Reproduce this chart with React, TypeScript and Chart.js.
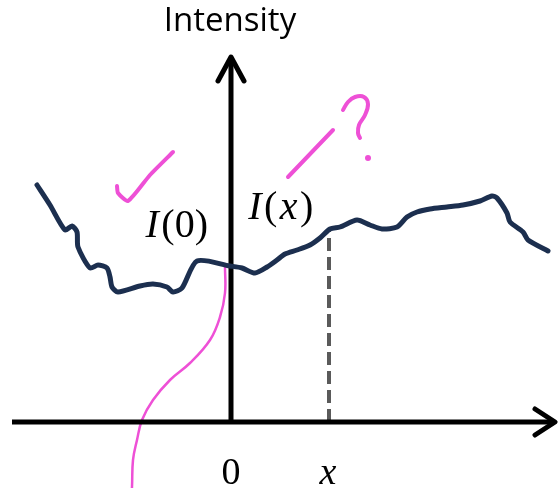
import React, { useEffect, useRef } from "react";
import { Chart, registerables } from "chart.js";

Chart.register(...registerables);

// Coordinates: origin at the intersection of the axes.
const intensityX = [-194, -181, -166, -159, -154, -153, -141, -133, -124, -121, -119, -113, -91, -78, -64, -58, -49, -34, -1, 11, 24, 36, 46, 54, 66, 79, 89, 99, 109, 126, 139, 151, 166, 176, 186, 199, 216, 232, 249, 261, 266, 276, 279, 292, 297, 317];
const intensityY = [237, 217, 192, 196, 190, 175, 154, 157, 154, 145, 135, 130, 136, 138, 135, 130, 134, 161, 156, 154, 149, 155, 162, 168, 172, 177, 184, 193, 195, 202, 197, 193, 195, 205, 210, 213, 215, 217, 221, 226, 224, 209, 200, 190, 182, 171];

const sampleX = 98;
const sampleValue = 192;

// Pink path, listed from the bottom edge upwards; it runs off the bottom of the frame.
const pathX = [-100, -99, -98, -94, -89, -78, -61, -41, -21, -11, -6, -6];
const pathY = [-80, -65, -38, -18, 2, 22, 42, 59, 82, 105, 129, 155];

const checkX = [-114, -113, -103, -81, -58];
const checkY = [236, 229, 221, 247, 270];

const slashX = [57, 102];
const slashY = [245, 292];

const questionX = [112, 117, 124, 133, 137, 134, 128, 127, 129];
const questionY = [312, 320, 325, 325, 318, 307, 297, 289, 284];
const questionDot = { x: 137, y: 264 };

const xAxisStart = -219;
const xAxisEnd = 324;
const yAxisEnd = 365;

const tickBaseline = -62;
const tickLabels = [
  { text: "0", x: 0, italic: false },
  { text: "x", x: 97, italic: true },
];

const NAVY = "#1c2f4f";
const PINK = "#ee50d6";

const zip = (xs: number[], ys: number[]) => xs.map((x, i) => ({ x, y: ys[i] }));

// Text is painted first so every stroke sits above it.
const labelsPlugin = {
  id: "diagramLabels",
  beforeDatasetsDraw(chart: any) {
    const { ctx, scales } = chart;
    const px = (v: number) => scales.x.getPixelForValue(v);
    const py = (v: number) => scales.y.getPixelForValue(v);
    ctx.save();
    ctx.fillStyle = "#000";
    ctx.textAlign = "center";
    ctx.textBaseline = "middle";

    ctx.font = '33px "Open Sans"';
    ctx.fillText("Intensity", px(-1), py(400));

    const drawMath = (parts: { t: string; italic: boolean }[], cx: number, cy: number, size: number) => {
      let total = 0;
      const widths = parts.map((p) => {
        ctx.font = `${p.italic ? "italic " : ""}${size}px "Liberation Serif"`;
        const w = ctx.measureText(p.t).width + size * 0.06;
        total += w;
        return w;
      });
      let x = cx - total / 2;
      ctx.textAlign = "left";
      parts.forEach((p, i) => {
        ctx.font = `${p.italic ? "italic " : ""}${size}px "Liberation Serif"`;
        ctx.fillText(p.t, x, cy);
        x += widths[i];
      });
      ctx.textAlign = "center";
    };

    drawMath(
      [
        { t: "I", italic: true },
        { t: "(0)", italic: false },
      ],
      px(-53),
      py(196),
      40
    );
    drawMath(
      [
        { t: "I", italic: true },
        { t: "(", italic: false },
        { t: "x", italic: true },
        { t: ")", italic: false },
      ],
      px(51),
      py(214),
      40
    );

    ctx.textBaseline = "alphabetic";
    tickLabels.forEach((t) => {
      ctx.font = `${t.italic ? "italic " : ""}38px "Liberation Serif"`;
      ctx.fillText(t.text, px(t.x), py(tickBaseline));
    });
    ctx.restore();
  },
};

export default function App() {
  const canvasRef = useRef<HTMLCanvasElement | null>(null);

  useEffect(() => {
    const canvas = canvasRef.current;
    if (!canvas) return;

    const base = { pointRadius: 0, showLine: true, fill: false, clip: false as any };

    // Question mark stroke, a gap, then its dot (shown as a single point marker).
    const questionData = [...zip(questionX, questionY), { x: questionDot.x, y: null }, questionDot];
    const questionRadii = questionData.map((_, i) => (i === questionData.length - 1 ? 3 : 0));

    const chart = new Chart(canvas, {
      type: "scatter",
      data: {
        datasets: [
          {
            ...base,
            label: "intensity",
            data: zip(intensityX, intensityY),
            borderColor: NAVY,
            borderWidth: 5,
            tension: 0.25,
            borderCapStyle: "round",
            borderJoinStyle: "round",
            order: 1,
          },
          {
            ...base,
            label: "path",
            data: zip(pathX, pathY),
            borderColor: PINK,
            borderWidth: 2.5,
            tension: 0.4,
            order: 3,
          },
          {
            ...base,
            label: "xAxis",
            data: [
              { x: xAxisStart, y: 0 },
              { x: xAxisEnd, y: 0 },
            ],
            borderColor: "#000",
            borderWidth: 5,
            order: 2,
          },
          {
            ...base,
            label: "xArrow",
            data: [
              { x: xAxisEnd - 20, y: 13 },
              { x: xAxisEnd, y: 0 },
              { x: xAxisEnd - 20, y: -13 },
            ],
            borderColor: "#000",
            borderWidth: 5,
            borderCapStyle: "round",
            borderJoinStyle: "round",
            order: 2,
          },
          {
            ...base,
            label: "yAxis",
            data: [
              { x: 0, y: 0 },
              { x: 0, y: yAxisEnd },
            ],
            borderColor: "#000",
            borderWidth: 5,
            order: 2,
          },
          {
            ...base,
            label: "yArrow",
            data: [
              { x: -13, y: yAxisEnd - 24 },
              { x: 0, y: yAxisEnd },
              { x: 13, y: yAxisEnd - 24 },
            ],
            borderColor: "#000",
            borderWidth: 5,
            borderCapStyle: "round",
            borderJoinStyle: "round",
            order: 2,
          },
          {
            ...base,
            label: "sample",
            data: [
              { x: sampleX, y: 0 },
              { x: sampleX, y: sampleValue },
            ],
            borderColor: "#5a5a5a",
            borderWidth: 4,
            borderDash: [13, 6],
            order: 4,
          },
          {
            ...base,
            label: "check",
            data: zip(checkX, checkY),
            borderColor: PINK,
            borderWidth: 4,
            tension: 0.2,
            borderCapStyle: "round",
            order: 3,
          },
          {
            ...base,
            label: "slash",
            data: zip(slashX, slashY),
            borderColor: PINK,
            borderWidth: 4,
            borderCapStyle: "round",
            order: 3,
          },
          {
            ...base,
            label: "question",
            data: questionData,
            borderColor: PINK,
            borderWidth: 4,
            tension: 0.4,
            borderCapStyle: "round",
            spanGaps: false,
            pointRadius: questionRadii,
            pointHoverRadius: questionRadii,
            pointBackgroundColor: PINK,
            pointBorderWidth: 0,
            order: 3,
          },
        ] as any,
      },
      options: {
        responsive: false,
        animation: false,
        layout: { padding: 0, autoPadding: false },
        plugins: {
          legend: { display: false },
          tooltip: { enabled: false },
        },
        scales: {
          x: { type: "linear", min: -231, max: 327, display: false },
          y: { type: "linear", min: -66, max: 422, display: false },
        },
      },
      plugins: [labelsPlugin],
    });

    return () => chart.destroy();
  }, []);

  return (
    <div style={{ position: "fixed", left: 0, top: 0, width: 558, height: 488, background: "#fff" }}>
      <canvas ref={canvasRef} width={558} height={488} style={{ display: "block" }} />
    </div>
  );
}
